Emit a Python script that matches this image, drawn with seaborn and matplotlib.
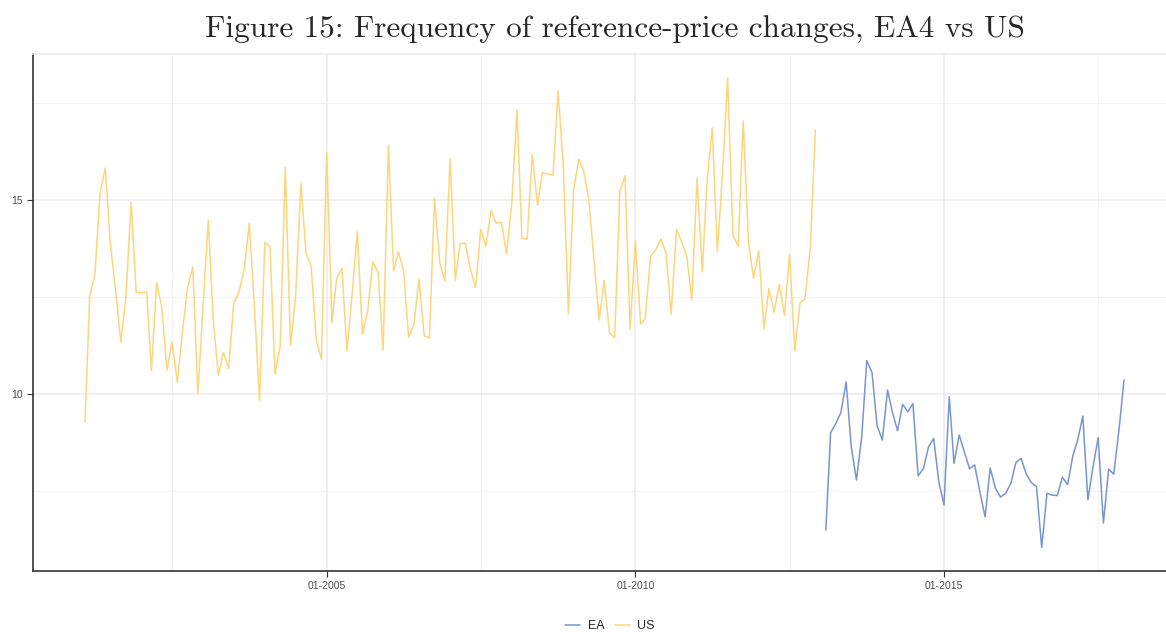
import numpy as np
import pandas as pd
import matplotlib
matplotlib.use("Agg")
import matplotlib.pyplot as plt
import matplotlib.dates as mdates
from matplotlib.ticker import MultipleLocator, FixedLocator
import seaborn as sns

# ======================
# DATA
# ======================
US_START = "2001-02-01"
US_VALUES = [
    9.28, 12.51, 13.07, 15.17, 15.82, 13.88, 12.68, 11.34, 12.47, 14.94,
    12.62, 12.60, 12.63, 10.60, 12.87, 12.25, 10.61, 11.34, 10.30, 11.60,
    12.74, 13.27, 10.00, 12.30, 14.48, 11.95, 10.48, 11.07, 10.65, 12.34,
    12.62, 13.20, 14.40, 12.20, 9.82, 13.90, 13.80, 10.52, 11.22, 15.84,
    11.25, 12.51, 15.42, 13.63, 13.30, 11.37, 10.89, 16.22, 11.84, 12.98,
    13.24, 11.11, 12.60, 14.18, 11.54, 12.15, 13.41, 13.13, 11.13, 16.40,
    13.17, 13.67, 13.18, 11.46, 11.80, 12.96, 11.50, 11.44, 15.04, 13.38,
    12.91, 16.07, 12.93, 13.87, 13.89, 13.22, 12.74, 14.24, 13.81, 14.73,
    14.40, 14.42, 13.61, 14.91, 17.32, 14.01, 13.99, 16.18, 14.87, 15.71,
    15.67, 15.64, 17.82, 15.86, 12.08, 15.28, 16.05, 15.75, 15.00, 13.45,
    11.91, 12.93, 11.57, 11.45, 15.21, 15.62, 11.67, 13.95, 11.80, 11.95,
    13.56, 13.71, 14.00, 13.63, 12.05, 14.24, 13.93, 13.56, 12.42, 15.56,
    13.15, 15.47, 16.86, 13.67, 15.69, 18.15, 14.10, 13.80, 17.04, 13.93,
    12.98, 13.69, 11.67, 12.72, 12.10, 12.83, 12.02, 13.60, 11.11, 12.34,
    12.46, 13.78, 16.80,
]
EA_START = "2013-02-01"
EA_VALUES = [
    6.49, 9.00, 9.24, 9.52, 10.31, 8.64, 7.78, 8.88, 10.86, 10.55,
    9.18, 8.81, 10.10, 9.54, 9.05, 9.73, 9.54, 9.75, 7.89, 8.07,
    8.63, 8.85, 7.74, 7.14, 9.93, 8.21, 8.94, 8.51, 8.07, 8.17,
    7.48, 6.83, 8.09, 7.57, 7.34, 7.44, 7.70, 8.23, 8.34, 7.94,
    7.71, 7.61, 6.04, 7.44, 7.39, 7.38, 7.85, 7.66, 8.40, 8.80,
    9.43, 7.27, 8.13, 8.87, 6.67, 8.06, 7.93, 9.07, 10.36,
]
SERIES = ["EA", "US"]
COLORS = {"EA": "#7896CE", "US": "#FDD67C"}
TITLE = "Figure 15: Frequency of reference-price changes, EA4 vs US"

# ======================
# FRAME
# ======================
us = pd.DataFrame({
    "date": pd.date_range(US_START, periods=len(US_VALUES), freq="MS"),
    "value": US_VALUES,
    "series": "US",
})
ea = pd.DataFrame({
    "date": pd.date_range(EA_START, periods=len(EA_VALUES), freq="MS"),
    "value": EA_VALUES,
    "series": "EA",
})
df = pd.concat([ea, us], ignore_index=True)

# ======================
# PLOT
# ======================
sns.set_theme(style="white")
plt.rcParams["font.family"] = ["Liberation Sans", "DejaVu Sans"]

fig = plt.figure(figsize=(11.66, 6.32), dpi=100)
ax = fig.add_axes([33 / 1166, 61 / 632, 1143 / 1166, 516.7 / 632])

sns.lineplot(data=df, x="date", y="value", hue="series", hue_order=SERIES,
             palette=COLORS, linewidth=1.1, ax=ax, legend=True)

# ggplot-like 5% expansion
dmin, dmax = df["date"].min(), df["date"].max()
span = dmax - dmin
ax.set_xlim(dmin - 0.05 * span, dmax + 0.05 * span)
vmin, vmax = df["value"].min(), df["value"].max()
vr = vmax - vmin
ax.set_ylim(vmin - 0.05 * vr, vmax + 0.05 * vr)

ax.xaxis.set_major_locator(mdates.YearLocator(5))
ax.xaxis.set_major_formatter(mdates.DateFormatter("%m-%Y"))
minor_x = mdates.date2num(pd.to_datetime(["2002-07-02", "2007-07-02",
                                          "2012-07-02", "2017-07-02"]))
ax.xaxis.set_minor_locator(FixedLocator(minor_x))
ax.yaxis.set_major_locator(MultipleLocator(5))
ax.yaxis.set_minor_locator(MultipleLocator(2.5))

ax.grid(which="major", color="#EBEBEB", linewidth=1.1)
ax.grid(which="minor", color="#F2F2F2", linewidth=0.6)
ax.set_axisbelow(True)

ax.spines["right"].set_visible(False)
ax.spines["top"].set_color("#EBEBEB")
ax.spines["top"].set_linewidth(1.1)
for s in ["left", "bottom"]:
    ax.spines[s].set_color("#333333")
    ax.spines[s].set_linewidth(1.2)

ax.tick_params(axis="both", which="major", length=4, width=0.8,
               color="#333333", labelsize=7.5, labelcolor="#4D4D4D", pad=3)
ax.tick_params(axis="both", which="minor", length=0)
ax.tick_params(axis="x", bottom=True)
ax.tick_params(axis="y", left=True)

ax.set_xlabel("")
ax.set_ylabel("")

handles, labels = ax.get_legend_handles_labels()
ax.get_legend().remove()
fig.legend(handles, labels, loc="center", bbox_to_anchor=(610 / 1166, 1 - 626 / 632),
           ncol=2, frameon=False, fontsize=9, handlelength=1.2,
           handletextpad=0.6, columnspacing=0.8)

fig.text(615 / 1166, 1 - 30 / 632, TITLE, ha="center", va="center",
         fontsize=22.5, family=["cmr10", "DejaVu Serif"])

fig.savefig("out.png", dpi=100)
plt.close(fig)
